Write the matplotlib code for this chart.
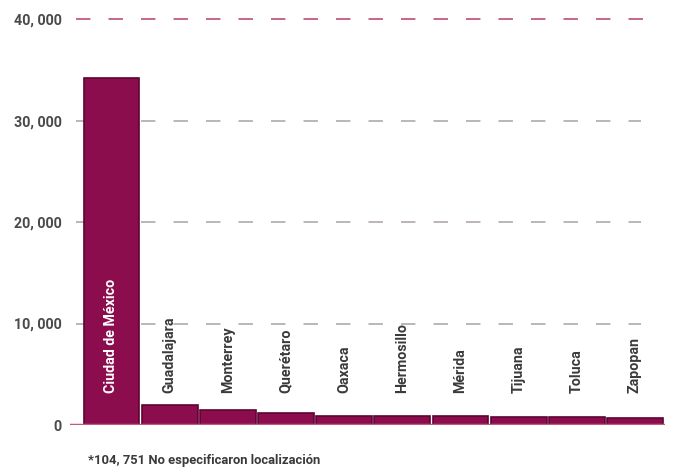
import matplotlib.pyplot as plt

plt.rcParams['font.family'] = ['Roboto', 'DejaVu Sans']

ciudades = ['Ciudad de México', 'Guadalajara', 'Monterrey', 'Querétaro', 'Oaxaca',
            'Hermosillo', 'Mérida', 'Tijuana', 'Toluca', 'Zapopan']
casos = [34200, 1950, 1480, 1180, 880, 860, 840, 820, 760, 700]
yticks = [0, 10000, 20000, 30000, 40000]
ytick_labels = ['0', '10, 000', '20, 000', '30, 000', '40, 000']
nota = '*104, 751 No especificaron localización'

fig = plt.figure(figsize=(6.73, 4.70), dpi=100)
ax = fig.add_axes([0.104, 0.0957, 0.884, 0.8745])

x = list(range(len(ciudades)))
ax.bar(x, casos, width=0.96, color='#8c0d4e', edgecolor='#5e0432', linewidth=1.2, zorder=3)

# gridlines
for v in yticks[1:]:
    c = '#c4597f' if v == 40000 else '#b8b0b3'
    ax.axhline(v, xmin=0.01, xmax=0.985 if v == 40000 else 0.96, color=c,
               linewidth=1.3, dashes=(8, 10), zorder=1)
ax.axhline(0, color='#c4597f', linewidth=2.5, zorder=4)

# city labels
for i, (name, val) in enumerate(zip(ciudades, casos)):
    col = 'white' if i == 0 else '#3a3a3a'
    ax.text(i, 3150, name, rotation=90, ha='center', va='bottom', fontsize=10.3,
            fontweight='bold', color=col, zorder=5)

ax.set_xlim(-0.713, 9.515)
ax.set_ylim(0, 40500)
ax.set_yticks(yticks)
ax.set_yticklabels(ytick_labels, fontsize=10.3, fontweight='bold', color='#4a4a4a')
ax.set_xticks([])
ax.tick_params(axis='y', length=0, pad=6)
for s in ax.spines.values():
    s.set_visible(False)

fig.text(0.131, 0.013, nota, fontsize=9.4, fontweight='bold', color='#3a3a3a')

plt.savefig('out.png', dpi=100)
